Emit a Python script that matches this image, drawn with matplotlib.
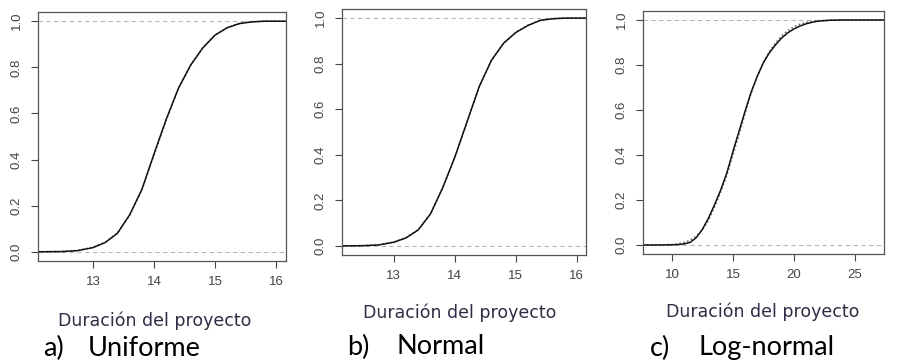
import numpy as np
import matplotlib.pyplot as plt

plt.rcParams['font.family'] = ['Liberation Sans', 'DejaVu Sans']

# ---- datos ----
dur_a = [12.1, 12.5, 12.75, 13.0, 13.2, 13.4, 13.6, 13.8, 14.0, 14.2, 14.4, 14.6, 14.8,
         15.0, 15.2, 15.4, 15.6, 15.8, 16.16]
cdf_a = [0.0, 0.001, 0.005, 0.018, 0.04, 0.08, 0.16, 0.27, 0.425, 0.575, 0.71, 0.81, 0.885,
         0.94, 0.972, 0.99, 0.997, 1.0, 1.0]
cdf_a2 = [0.0, 0.001, 0.006, 0.02, 0.042, 0.082, 0.158, 0.268, 0.42, 0.572, 0.708, 0.81, 0.886,
          0.941, 0.973, 0.991, 0.998, 1.0, 1.0]

dur_b = [12.15, 12.5, 12.75, 13.0, 13.2, 13.4, 13.6, 13.8, 14.0, 14.2, 14.4, 14.6, 14.8,
         15.0, 15.2, 15.4, 15.6, 15.8, 16.15]
cdf_b = [0.0, 0.001, 0.004, 0.016, 0.035, 0.07, 0.14, 0.255, 0.39, 0.545, 0.70, 0.815, 0.89,
         0.937, 0.968, 0.99, 0.997, 1.0, 1.0]
cdf_b2 = [0.0, 0.001, 0.005, 0.017, 0.037, 0.072, 0.142, 0.253, 0.388, 0.543, 0.698, 0.814, 0.89,
          0.938, 0.969, 0.991, 0.998, 1.0, 1.0]

dur_c = [7.62, 9.0, 10.0, 10.5, 11.0, 11.5, 12.0, 12.5, 13.0, 13.5, 14.0, 14.5, 15.0, 15.5, 16.0,
         16.5, 17.0, 17.5, 18.0, 18.5, 19.0, 19.5, 20.0, 20.5, 21.0, 21.5, 22.0, 23.0, 24.0, 27.4]
cdf_c = [0.0, 0.0, 0.001, 0.002, 0.005, 0.012, 0.033, 0.07, 0.12, 0.18, 0.245, 0.32, 0.415, 0.505,
         0.595, 0.68, 0.75, 0.81, 0.855, 0.89, 0.92, 0.943, 0.96, 0.973, 0.983, 0.99, 0.995, 0.999,
         1.0, 1.0]
cdf_c2 = [0.0, 0.0, 0.002, 0.005, 0.012, 0.022, 0.04, 0.068, 0.11, 0.17, 0.235, 0.31, 0.40, 0.49,
          0.585, 0.675, 0.75, 0.812, 0.86, 0.898, 0.93, 0.953, 0.97, 0.981, 0.989, 0.994, 0.997,
          1.0, 1.0, 1.0]

xticks_ab = [13, 14, 15, 16]
xticks_c = [10, 15, 20, 25]
yticks = [0.0, 0.2, 0.4, 0.6, 0.8, 1.0]
etiquetas = ['a)', 'b)', 'c)']
nombres = ['Uniforme', 'Normal', 'Log-normal']

W, H = 912, 362
fig = plt.figure(figsize=(W / 100, H / 100), dpi=100)

# posiciones en pixeles: (izq, der, arriba, abajo)
cajas = [(38, 286, 12, 261), (342, 586, 9, 255), (643, 884, 11, 254)]
xlims = [(12.1, 16.16), (12.15, 16.15), (7.62, 27.4)]
series = [(dur_a, cdf_a, cdf_a2), (dur_b, cdf_b, cdf_b2), (dur_c, cdf_c, cdf_c2)]
xt = [xticks_ab, xticks_ab, xticks_c]
xlab_pos = [(155, 321), (460, 313), (763, 312)]
cap_pos = [(43, 88, 348), (347, 397, 347), (650, 699, 348)]

for i in range(3):
    l, r, t, b = cajas[i]
    ax = fig.add_axes([l / W, 1 - b / H, (r - l) / W, (b - t) / H])
    x, y1, y2 = series[i]
    ax.axhline(0, color='#b8b8b8', ls=(0, (4, 3)), lw=0.8)
    ax.axhline(1, color='#b8b8b8', ls=(0, (4, 3)), lw=0.8)
    ax.plot(x, y2, color='#666666', ls=':', lw=1.1)
    ax.plot(x, y1, color='#111111', lw=1.1)
    ax.set_xlim(*xlims[i])
    ax.set_ylim(-0.04, 1.04)
    ax.set_xticks(xt[i])
    ax.set_yticks(yticks)
    ax.set_yticklabels(['%.1f' % v for v in yticks], rotation=90, va='center')
    ax.tick_params(colors='#444444', labelsize=9.5, length=5, width=0.8, pad=6)
    for s in ax.spines.values():
        s.set_color('#555555')
        s.set_linewidth(0.9)
    fig.text(xlab_pos[i][0] / W, 1 - xlab_pos[i][1] / H, 'Duración del proyecto',
             ha='center', va='center', fontsize=12.5, color='#2d2d45', family='DejaVu Sans')
    fig.text(cap_pos[i][0] / W, 1 - cap_pos[i][2] / H, etiquetas[i], ha='left', va='center',
             fontsize=19.5, color='black', family='Lato')
    fig.text(cap_pos[i][1] / W, 1 - cap_pos[i][2] / H, nombres[i], ha='left', va='center',
             fontsize=19.5, color='black', family='Lato')

fig.savefig('out.png', dpi=100)
